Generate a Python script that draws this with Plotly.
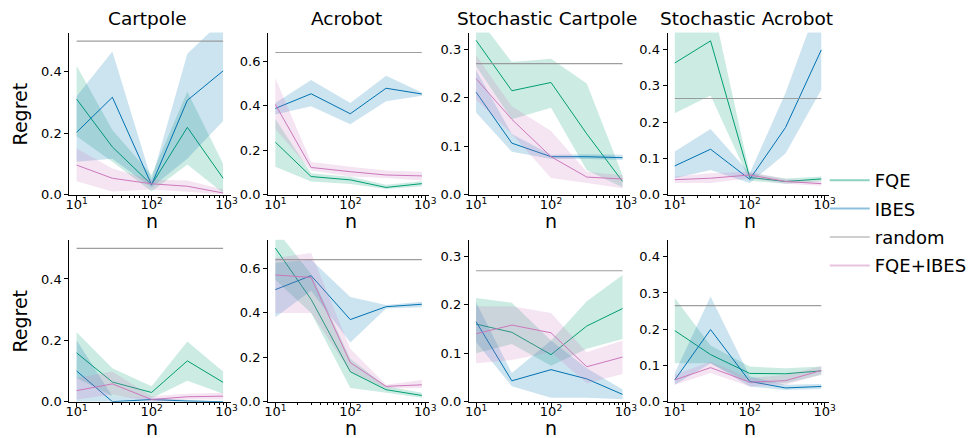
import plotly.graph_objects as go
import math

# ---------------- data ----------------
N_SAMPLES = [10, 30, 100, 300, 900]
ENVS = ["Cartpole", "Acrobot", "Stochastic Cartpole", "Stochastic Acrobot"]
RANDOM_REGRET = [0.5, 0.64, 0.27, 0.265]
Y_MAX = [0.528, 0.73, 0.334, 0.447]
Y_DTICK = [0.2, 0.2, 0.1, 0.1]

# row 1
fqe_mean_r1 = [[0.311, 0.155, 0.032, 0.219, 0.053],
               [0.236, 0.081, 0.066, 0.032, 0.049],
               [0.318, 0.214, 0.231, 0.125, 0.027],
               [0.363, 0.424, 0.047, 0.036, 0.043]]
fqe_hi_r1 = [[0.42, 0.21, 0.064, 0.336, 0.10],
             [0.34, 0.096, 0.08, 0.044, 0.06],
             [0.37, 0.273, 0.28, 0.229, 0.04],
             [0.50, 0.55, 0.059, 0.044, 0.05]]
fqe_lo_r1 = [[0.19, 0.107, 0.01, 0.098, 0.005],
             [0.125, 0.059, 0.048, 0.025, 0.037],
             [0.265, 0.155, 0.179, 0.05, 0.015],
             [0.224, 0.273, 0.038, 0.03, 0.036]]
ibes_mean_r1 = [[0.203, 0.317, 0.032, 0.307, 0.403],
                [0.388, 0.454, 0.364, 0.479, 0.453],
                [0.211, 0.106, 0.078, 0.078, 0.076],
                [0.079, 0.125, 0.042, 0.185, 0.399]]
ibes_hi_r1 = [[0.32, 0.466, 0.048, 0.459, 0.57],
              [0.413, 0.516, 0.413, 0.535, 0.46],
              [0.256, 0.125, 0.082, 0.083, 0.082],
              [0.119, 0.181, 0.059, 0.28, 0.55]]
ibes_lo_r1 = [[0.107, 0.117, 0.023, 0.117, 0.24],
              [0.361, 0.398, 0.317, 0.42, 0.445],
              [0.169, 0.088, 0.073, 0.073, 0.071],
              [0.045, 0.068, 0.032, 0.113, 0.289]]
comb_mean_r1 = [[0.096, 0.053, 0.035, 0.027, 0.005],
                [0.406, 0.122, 0.103, 0.088, 0.084],
                [0.239, 0.155, 0.078, 0.036, 0.032],
                [0.041, 0.045, 0.054, 0.036, 0.030]]
comb_hi_r1 = [[0.15, 0.085, 0.048, 0.046, 0.016],
              [0.524, 0.147, 0.125, 0.108, 0.103],
              [0.287, 0.182, 0.131, 0.047, 0.04],
              [0.05, 0.059, 0.063, 0.043, 0.036]]
comb_lo_r1 = [[0.043, 0.01, 0.016, 0.009, 0.0],
              [0.295, 0.108, 0.081, 0.074, 0.063],
              [0.196, 0.125, 0.034, 0.024, 0.013],
              [0.032, 0.032, 0.045, 0.03, 0.024]]

# row 2
fqe_mean_r2 = [[0.159, 0.064, 0.030, 0.133, 0.063],
               [0.692, 0.461, 0.135, 0.054, 0.028],
               [0.160, 0.143, 0.097, 0.156, 0.192],
               [0.196, 0.130, 0.078, 0.077, 0.085]]
fqe_hi_r2 = [[0.226, 0.109, 0.05, 0.196, 0.098],
             [0.78, 0.575, 0.194, 0.069, 0.04],
             [0.214, 0.204, 0.126, 0.207, 0.261],
             [0.286, 0.155, 0.097, 0.092, 0.097]]
fqe_lo_r2 = [[0.077, 0.018, 0.011, 0.068, 0.026],
             [0.55, 0.40, 0.062, 0.04, 0.018],
             [0.10, 0.119, 0.074, 0.109, 0.129],
             [0.106, 0.106, 0.051, 0.051, 0.074]]
ibes_mean_r2 = [[0.100, 0.0, 0.007, 0.002, 0.0],
                [0.505, 0.568, 0.370, 0.428, 0.439],
                [0.165, 0.043, 0.066, 0.047, 0.015],
                [0.060, 0.199, 0.056, 0.038, 0.042]]
ibes_hi_r2 = [[0.20, 0.018, 0.012, 0.007, 0.002],
              [0.626, 0.64, 0.472, 0.436, 0.45],
              [0.205, 0.059, 0.126, 0.069, 0.025],
              [0.079, 0.29, 0.07, 0.047, 0.049]]
ibes_lo_r2 = [[0.0, 0.0, 0.0, 0.0, 0.0],
              [0.381, 0.50, 0.267, 0.42, 0.425],
              [0.123, 0.032, 0.008, 0.008, 0.005],
              [0.047, 0.106, 0.042, 0.032, 0.035]]
comb_mean_r2 = [[0.036, 0.058, 0.007, 0.016, 0.018],
                [0.571, 0.560, 0.176, 0.069, 0.076],
                [0.140, 0.158, 0.142, 0.072, 0.092],
                [0.060, 0.094, 0.054, 0.058, 0.086]]
comb_hi_r2 = [[0.077, 0.098, 0.018, 0.026, 0.029],
              [0.648, 0.67, 0.238, 0.076, 0.098],
              [0.197, 0.197, 0.183, 0.102, 0.126],
              [0.074, 0.11, 0.065, 0.074, 0.098]]
comb_lo_r2 = [[0.007, 0.023, 0.0, 0.007, 0.007],
              [0.40, 0.40, 0.135, 0.059, 0.062],
              [0.079, 0.086, 0.102, 0.038, 0.057],
              [0.047, 0.079, 0.042, 0.047, 0.074]]

# ---------------- style ----------------
C_FQE = (2, 158, 115)
C_IBES = (1, 115, 178)
C_RAND = (148, 148, 148)
C_COMB = (204, 120, 188)
FONT = "DejaVu Sans"
W, H = 976, 438


def rgba(c, a):
    return f"rgba({c[0]},{c[1]},{c[2]},{a})"


X_LEFT_PX = [58, 259, 462, 663]
PANEL_W = 163
ROWS_PX = [(25, 190), (236, 401)]

fig = go.Figure()

rows = [
    (fqe_mean_r1, fqe_lo_r1, fqe_hi_r1, ibes_mean_r1, ibes_lo_r1, ibes_hi_r1, comb_mean_r1, comb_lo_r1, comb_hi_r1),
    (fqe_mean_r2, fqe_lo_r2, fqe_hi_r2, ibes_mean_r2, ibes_lo_r2, ibes_hi_r2, comb_mean_r2, comb_lo_r2, comb_hi_r2),
]

layout_axes = {}
annotations = []
for r, rowdata in enumerate(rows):
    fm, fl, fh, im, il, ih, cm, cl, ch = rowdata
    top_px, bot_px = ROWS_PX[r]
    for c in range(4):
        idx = r * 4 + c + 1
        xa = "x" if idx == 1 else f"x{idx}"
        ya = "y" if idx == 1 else f"y{idx}"
        series = [
            (fm[c], fl[c], fh[c], C_FQE),
            (im[c], il[c], ih[c], C_IBES),
            None,
            (cm[c], cl[c], ch[c], C_COMB),
        ]
        for s in series:
            if s is None:
                fig.add_trace(go.Scatter(
                    x=N_SAMPLES, y=[RANDOM_REGRET[c]] * len(N_SAMPLES), mode="lines",
                    line=dict(color=rgba(C_RAND, 0.9), width=1.2), xaxis=xa, yaxis=ya,
                    showlegend=False, hoverinfo="skip"))
                continue
            mean, lo, hi, col = s
            fig.add_trace(go.Scatter(
                x=N_SAMPLES + N_SAMPLES[::-1], y=hi + lo[::-1], fill="toself",
                fillcolor=rgba(col, 0.2), line=dict(width=0), mode="lines",
                xaxis=xa, yaxis=ya, showlegend=False, hoverinfo="skip"))
            fig.add_trace(go.Scatter(
                x=N_SAMPLES, y=mean, mode="lines", line=dict(color=rgba(col, 1), width=1),
                xaxis=xa, yaxis=ya, showlegend=False))
        x0 = X_LEFT_PX[c] / W
        x1 = (X_LEFT_PX[c] + PANEL_W) / W
        y0 = 1 - bot_px / H
        y1 = 1 - top_px / H
        axis_common = dict(showline=True, linecolor="black", linewidth=1, mirror=False,
                           showgrid=False, zeroline=False, ticks="outside", ticklen=4,
                           tickwidth=1, tickcolor="black",
                           tickfont=dict(family=FONT, size=13, color="black"))
        layout_axes[("xaxis" if idx == 1 else f"xaxis{idx}")] = dict(
            axis_common, type="log", domain=[x0, x1], anchor=ya,
            range=[math.log10(8.0), math.log10(1130)],
            tickmode="array", tickvals=[10, 100, 1000],
            ticktext=["10<sup>1</sup>", "10<sup>2</sup>", "10<sup>3</sup>"],
            ticklabelstandoff=-6,
            minor=dict(ticks="outside", ticklen=2, tickcolor="black",
                       tickvals=[20, 30, 40, 50, 60, 70, 80, 90, 200, 300, 400, 500, 600, 700, 800, 900]))
        layout_axes[("yaxis" if idx == 1 else f"yaxis{idx}")] = dict(
            axis_common, domain=[y0, y1], anchor=xa, range=[0, Y_MAX[c]],
            tick0=0, dtick=Y_DTICK[c], tickformat=".1f")
        # x label
        annotations.append(dict(text="n", xref="paper", yref="paper",
                                x=(X_LEFT_PX[c] + PANEL_W / 2 + 2) / W,
                                y=1 - (bot_px + 27) / H, showarrow=False,
                                font=dict(family=FONT, size=19, color="black"),
                                xanchor="center", yanchor="middle"))
        if r == 0:
            annotations.append(dict(text=ENVS[c], xref="paper", yref="paper",
                                    x=(X_LEFT_PX[c] + PANEL_W / 2 - 2) / W,
                                    y=1 - 11 / H, showarrow=False,
                                    font=dict(family=FONT, size=18.5, color="black"),
                                    xanchor="center", yanchor="middle"))
        if c == 0:
            annotations.append(dict(text="Regret", xref="paper", yref="paper",
                                    x=8 / W, y=1 - (top_px + bot_px) / 2 / H,
                                    textangle=-90, showarrow=False,
                                    font=dict(family=FONT, size=19, color="black"),
                                    xanchor="center", yanchor="middle"))

# legend entries
for name, col in [("FQE", C_FQE), ("IBES", C_IBES), ("random", C_RAND), ("FQE+IBES", C_COMB)]:
    fig.add_trace(go.Scatter(x=[None], y=[None], mode="lines", name=name,
                             line=dict(color=rgba(col, 0.45), width=2),
                             xaxis="x", yaxis="y", showlegend=True, legendgroup=name))

fig.update_layout(
    width=W, height=H, margin=dict(l=0, r=0, t=0, b=0),
    paper_bgcolor="white", plot_bgcolor="white",
    annotations=annotations,
    showlegend=True,
    legend=dict(x=822 / W, y=1 - 219 / H, xanchor="left", yanchor="middle",
                font=dict(family=FONT, size=18, color="black"),
                bgcolor="rgba(0,0,0,0)", tracegroupgap=2, itemwidth=40),
    **layout_axes,
)

fig.write_html("out.html")
